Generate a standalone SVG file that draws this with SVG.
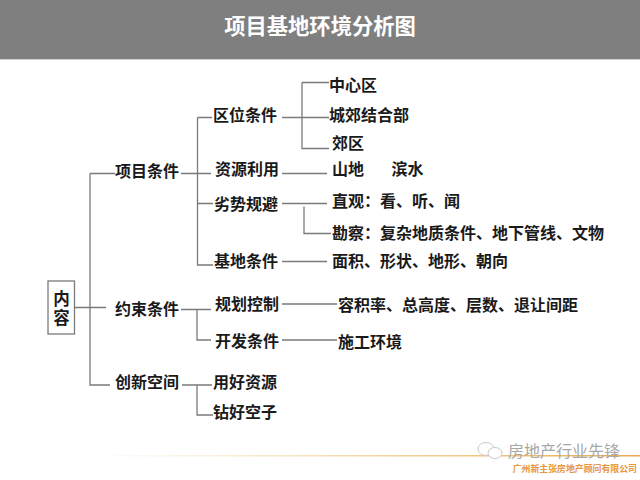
<svg xmlns="http://www.w3.org/2000/svg" width="640" height="480" viewBox="0 0 640 480">
<defs>
<linearGradient id="rule" x1="0" y1="0" x2="1" y2="0"><stop offset="0" stop-color="#f6e4c4" stop-opacity="0"/><stop offset="0.5" stop-color="#f3d9a8"/><stop offset="1" stop-color="#eda94f"/></linearGradient>
</defs>
<style>
text{font-family:"Noto Sans CJK SC","Liberation Sans",sans-serif;font-weight:700;fill:#1a1a1a;font-size:16px}
.c{fill:none;stroke:#7a7a7a;stroke-width:1.3}
.i{fill:#fff;stroke:#c8c8c8;stroke-width:1}
</style>
<rect width="640" height="480" fill="#fff"/>
<rect id="header" width="640" height="59" fill="#7f7f7f"/>
<rect y="59" width="640" height="1" fill="#d0d0d0"/>
<text x="320" y="34" text-anchor="middle" style="font-size:21.300px;fill:#fff">项目基地环境分析图</text>
<g id="connectors">
<path class="c" d="M75 307.500H106M90 173.500V385H110M90 173.500H115"/>
<path class="c" d="M181 173.500H211M197.500 117.500V265H213M197.500 117.500H212M197.500 203.500H213"/>
<path class="c" d="M282 117.500H329M302 82.500V148.500H329M302 82.500H329"/>
<path class="c" d="M282 173.500H327"/>
<path class="c" d="M282 203.500H327M304 206.500V233.500H331"/>
<path class="c" d="M282 261.500H327"/>
<path class="c" d="M181 309.500H211M197 309.500V340H211"/>
<path class="c" d="M282 304H337M282 340H337"/>
<path class="c" d="M182 385H212M197 385V415H213"/>
</g>
<g id="n-root"><rect x="48" y="281" width="26.500" height="53" fill="#fff" stroke="#7a7a7a" stroke-width="1.300"/><text text-anchor="middle" style="font-size:16.500px"><tspan x="61.500" y="305">内</tspan><tspan x="61.500" y="324">容</tspan></text></g>
<g id="n-xmtj"><text x="115" y="177">项目条件</text></g>
<g id="n-ysj"><text x="115" y="315">约束条件</text></g>
<g id="n-cxkj"><text x="115" y="388">创新空间</text></g>
<g id="n-qwtj"><text x="213" y="121">区位条件</text></g>
<g id="n-zyly"><text x="215" y="175">资源利用</text></g>
<g id="n-lsgb"><text x="214" y="210">劣势规避</text></g>
<g id="n-jdtj"><text x="214" y="267">基地条件</text></g>
<g id="n-ghkz"><text x="215" y="310">规划控制</text></g>
<g id="n-kftj"><text x="215" y="347">开发条件</text></g>
<g id="n-yhzy"><text x="213" y="388">用好资源</text></g>
<g id="n-zhkz"><text x="213" y="418">钻好空子</text></g>
<g id="n-zxq"><text x="329" y="91">中心区</text></g>
<g id="n-cjjhb"><text x="329" y="121">城郊结合部</text></g>
<g id="n-jq"><text x="332" y="149">郊区</text></g>
<g id="n-sd"><text x="332" y="175">山地</text></g>
<g id="n-bs"><text x="391.500" y="175">滨水</text></g>
<g id="n-zg"><text x="332" y="207">直观：看、听、闻</text></g>
<g id="n-kc"><text x="332" y="239">勘察：复杂地质条件、地下管线、文物</text></g>
<g id="n-mj"><text x="332" y="267">面积、形状、地形、朝向</text></g>
<g id="n-rjl"><text x="338" y="311">容积率、总高度、层数、退让间距</text></g>
<g id="n-sghj"><text x="338" y="347.500">施工环境</text></g>
<rect x="80" y="455" width="560" height="1.500" fill="url(#rule)"/>
<ellipse class="i" cx="486" cy="449" rx="8" ry="6.500"/>
<ellipse class="i" cx="495" cy="453" rx="7" ry="5.500"/>
<text x="508" y="457" style="font-weight:400;fill:#a8a8a8">房地产行业先锋</text>
<text x="637" y="472" text-anchor="end" style="font-size:8.900px;fill:#e8963c">广州新主张房地产顾问有限公司</text>
</svg>
